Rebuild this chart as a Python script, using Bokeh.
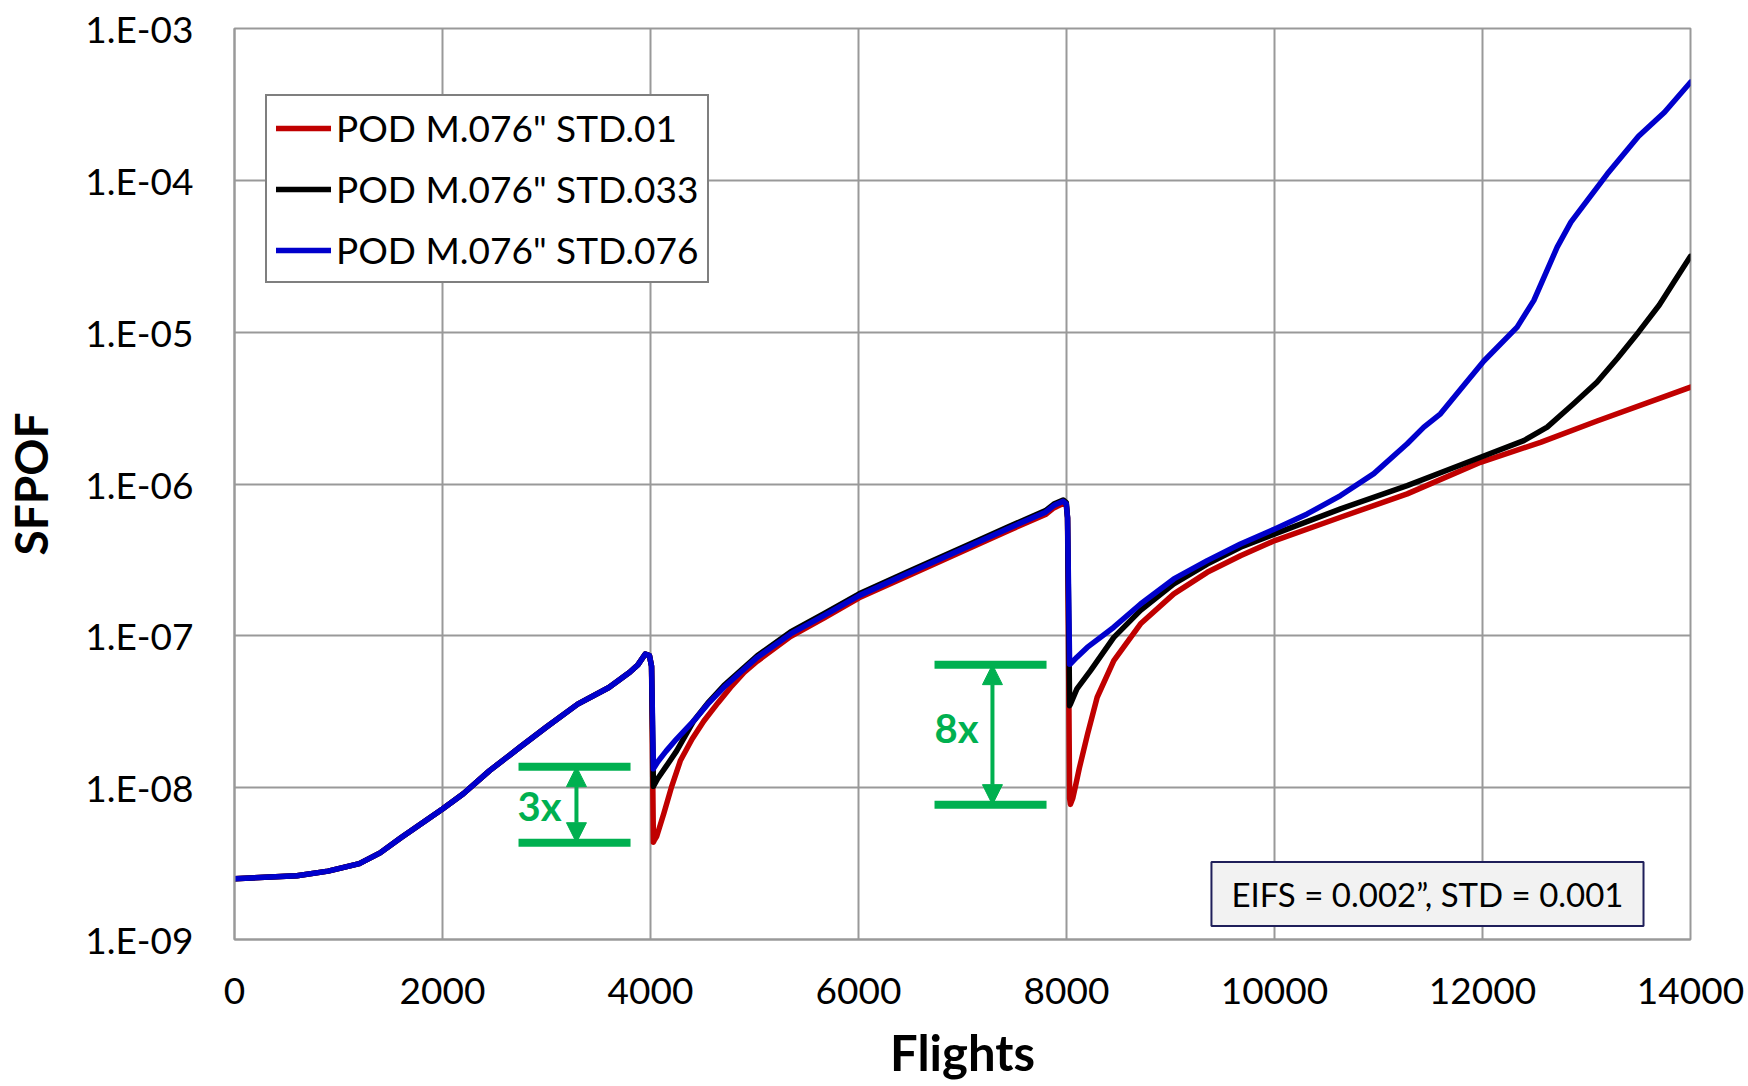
from bokeh.plotting import figure
from bokeh.models import (FixedTicker, CustomJSTickFormatter, Legend, LegendItem,
                          Label, Arrow, NormalHead, ColumnDataSource)
from bokeh.core.properties import value
from bokeh.embed import file_html
from bokeh.resources import INLINE

# ---------------- data ----------------
flights_common = [0, 600, 900, 1200, 1400, 1600, 2000, 2200, 2450, 2750, 3000,
                  3300, 3600, 3800, 3880, 3950, 3990, 4010]
sfpof_common = [2.51e-9, 2.63e-9, 2.82e-9, 3.16e-9, 3.72e-9, 4.68e-9, 7.24e-9,
                9.12e-9, 1.29e-8, 1.86e-8, 2.51e-8, 3.55e-8, 4.57e-8, 5.75e-8,
                6.46e-8, 7.59e-8, 7.41e-8, 6.31e-8]

flights_std01 = [4028, 4036, 4060, 4128, 4200, 4288, 4400, 4513, 4650, 4769, 4900,
                 5026, 5346, 5667, 6006, 6468, 7109, 7430, 7798, 7878, 7968, 7998,
                 8010, 8030, 8038, 8060, 8090, 8124, 8203, 8295, 8455, 8712, 9032,
                 9353, 9673, 10003, 10635, 11276, 11981, 12558, 13095, 14000]
sfpof_std01 = [4.37e-9, 4.5e-9, 4.79e-9, 6.76e-9, 1.0e-8, 1.51e-8, 2.09e-8, 2.75e-8,
               3.63e-8, 4.57e-8, 5.75e-8, 6.8e-8, 9.9e-8, 1.31e-7, 1.78e-7, 2.47e-7,
               3.89e-7, 4.89e-7, 6.3e-7, 6.96e-7, 7.43e-7, 7.2e-7, 6.0e-7,
               8.5e-9, 7.76e-9, 8.5e-9, 1.05e-8, 1.35e-8, 2.26e-8, 3.94e-8, 6.87e-8,
               1.20e-7, 1.89e-7, 2.62e-7, 3.37e-7, 4.24e-7, 6.04e-7, 8.61e-7,
               1.39e-6, 1.88e-6, 2.59e-6, 4.34e-6]

flights_std033 = [4028, 4070, 4150, 4250, 4417, 4550, 4705, 5026, 5346, 5667, 6006,
                  6468, 7109, 7430, 7798, 7878, 7968, 7998, 8010, 8030, 8038, 8100,
                  8231, 8455, 8712, 9032, 9353, 9673, 10003, 10635, 11276, 11981,
                  12397, 12622, 12878, 13100, 13300, 13500, 13700, 13850, 14000]
sfpof_std033 = [1.02e-8, 1.15e-8, 1.38e-8, 1.74e-8, 2.76e-8, 3.6e-8, 4.7e-8, 7.4e-8,
                1.06e-7, 1.40e-7, 1.89e-7, 2.63e-7, 4.13e-7, 5.19e-7, 6.68e-7,
                7.38e-7, 7.85e-7, 7.55e-7, 6.0e-7, 3.47e-8, 3.55e-8, 4.47e-8,
                5.90e-8, 9.77e-8, 1.47e-7, 2.20e-7, 2.97e-7, 3.83e-7, 4.69e-7,
                6.86e-7, 9.75e-7, 1.50e-6, 1.93e-6, 2.37e-6, 3.39e-6, 4.68e-6,
                6.76e-6, 1.0e-5, 1.51e-5, 2.19e-5, 3.16e-5]

flights_std076 = [4028, 4070, 4150, 4250, 4417, 4550, 4705, 5026, 5346, 5667, 6006,
                  6468, 7109, 7430, 7798, 7878, 7968, 7998, 8010, 8030, 8038, 8100,
                  8199, 8455, 8712, 9032, 9353, 9673, 10003, 10314, 10635, 10955,
                  11276, 11436, 11596, 11805, 12013, 12333, 12494, 12718, 12850,
                  13006, 13199, 13500, 13750, 14000]
sfpof_std076 = [1.33e-8, 1.48e-8, 1.74e-8, 2.09e-8, 2.76e-8, 3.55e-8, 4.58e-8,
                7.21e-8, 1.03e-7, 1.36e-7, 1.84e-7, 2.56e-7, 4.03e-7, 5.06e-7,
                6.52e-7, 7.21e-7, 7.69e-7, 7.4e-7, 6.0e-7, 6.5e-8, 6.53e-8, 7.24e-8,
                8.39e-8, 1.14e-7, 1.62e-7, 2.37e-7, 3.13e-7, 4.03e-7, 5.06e-7,
                6.35e-7, 8.39e-7, 1.17e-6, 1.84e-6, 2.37e-6, 2.90e-6, 4.34e-6,
                6.46e-6, 1.08e-5, 1.62e-5, 3.63e-5, 5.30e-5, 7.36e-5, 1.10e-4,
                1.95e-4, 2.81e-4, 4.43e-4]

series_names = ['POD M.076" STD.01', 'POD M.076" STD.033', 'POD M.076" STD.076']
series_colors = ["#C00000", "#000000", "#0000CC"]

x_ticks = [0, 2000, 4000, 6000, 8000, 10000, 12000, 14000]
y_ticks = [1e-9, 1e-8, 1e-7, 1e-6, 1e-5, 1e-4, 1e-3]
y_tick_labels = ["1.E-09", "1.E-08", "1.E-07", "1.E-06", "1.E-05", "1.E-04", "1.E-03"]

# ratio markers (green brackets)
ratio_text = ["3x", "8x"]
ratio_x0 = [2731, 6731]
ratio_x1 = [3808, 7808]
ratio_xc = [3288, 7288]
ratio_top = [1.375e-8, 6.46e-8]
ratio_bottom = [4.34e-9, 7.73e-9]
ratio_text_x = [2933, 6942]
ratio_text_y = [7.6e-9, 2.48e-8]

note_text = "EIFS = 0.002\u201d, STD = 0.001"
note_x = 11471
note_y = 1.99e-9

FONT = "Lato"
GRID = "#999999"
GREEN = "#00B050"

# ---------------- figure ----------------
p = figure(width=1748, height=1086, y_axis_type="log",
           x_range=(0, 14000), y_range=(1e-9, 1e-3),
           output_backend="svg", toolbar_location=None,
           min_border_left=234, min_border_right=58,
           min_border_top=28, min_border_bottom=147)
p.background_fill_color = "white"
p.border_fill_color = "white"
p.outline_line_color = GRID
p.outline_line_width = 2

p.xaxis.ticker = FixedTicker(ticks=x_ticks)
p.yaxis.ticker = FixedTicker(ticks=y_ticks)
p.yaxis.formatter = CustomJSTickFormatter(
    args=dict(yt=y_ticks, yl=y_tick_labels),
    code="""
    for (let i = 0; i < yt.length; i++) {
        if (Math.abs(Math.log10(yt[i]) - Math.log10(tick)) < 1e-6) return yl[i];
    }
    return '';
    """)

for ax in (p.xaxis, p.yaxis):
    ax.axis_line_color = GRID
    ax.axis_line_width = 2
    ax.major_tick_line_color = None
    ax.minor_tick_line_color = None
    ax.major_label_text_font = FONT
    ax.major_label_text_font_size = "37px"
    ax.major_label_text_color = "black"
    ax.axis_label_text_font = FONT
    ax.axis_label_text_font_style = "bold"
    ax.axis_label_text_color = "black"

p.xaxis.axis_label_text_font_size = "49px"
p.yaxis.axis_label_text_font_size = "46px"
p.yaxis.major_label_standoff = 35
p.xaxis.major_label_standoff = 32
p.xaxis.axis_label = "Flights"
p.yaxis.axis_label = "SFPOF"
p.xaxis.axis_label_standoff = 16
p.yaxis.axis_label_standoff = 24

p.xgrid.grid_line_color = GRID
p.xgrid.grid_line_width = 2
p.ygrid.grid_line_color = GRID
p.ygrid.grid_line_width = 2
p.ygrid.minor_grid_line_color = None

# ---------------- green ratio brackets ----------------
src_r = ColumnDataSource(dict(x0=ratio_x0, x1=ratio_x1, xc=ratio_xc, top=ratio_top,
                              bottom=ratio_bottom, tx=ratio_text_x, ty=ratio_text_y,
                              text=ratio_text))
p.segment(x0="x0", x1="x1", y0="top", y1="top", source=src_r,
          line_color=GREEN, line_width=8)
p.segment(x0="x0", x1="x1", y0="bottom", y1="bottom", source=src_r,
          line_color=GREEN, line_width=8)
p.add_layout(Arrow(x_start="xc", y_start="top", x_end="xc", y_end="bottom",
                   source=src_r, line_color=GREEN, line_width=4,
                   start=NormalHead(size=20, fill_color=GREEN, line_color=GREEN),
                   end=NormalHead(size=20, fill_color=GREEN, line_color=GREEN)))
p.text(x="tx", y="ty", text="text", source=src_r, text_color=GREEN,
       text_font=value(FONT), text_font_style="bold", text_font_size="40px",
       text_align="center", text_baseline="middle")

# ---------------- curves ----------------
xs = [flights_common + flights_std01, flights_common + flights_std033,
      flights_common + flights_std076]
ys = [sfpof_common + sfpof_std01, sfpof_common + sfpof_std033,
      sfpof_common + sfpof_std076]
renderers = []
for x, y, c in zip(xs, ys, series_colors):
    r = p.line(x, y, line_color=c, line_width=5.5, line_join="round", line_cap="round")
    renderers.append(r)

legend = Legend(items=[LegendItem(label=n, renderers=[r])
                       for n, r in zip(series_names, renderers)],
                location=(31, 656))
legend.label_text_font = FONT
legend.label_text_font_size = "37px"
legend.label_text_color = "black"
legend.glyph_width = 55
legend.glyph_height = 40
legend.label_height = 40
legend.spacing = 16
legend.padding = 9
legend.margin = 0
legend.label_standoff = 5
legend.border_line_color = "black"
legend.border_line_width = 2
legend.background_fill_color = "white"
legend.background_fill_alpha = 1
p.add_layout(legend)

note = Label(x=note_x, y=note_y, text=note_text, text_font=FONT,
             text_font_size="33px", text_color="black",
             text_align="center", text_baseline="middle",
             background_fill_color="#F2F2F2", border_line_color="#1F1F5A",
             border_line_width=2,
             padding=dict(left=20, right=20, top=12, bottom=12))
p.add_layout(note)

open("out.html", "w").write(file_html(p, INLINE))
